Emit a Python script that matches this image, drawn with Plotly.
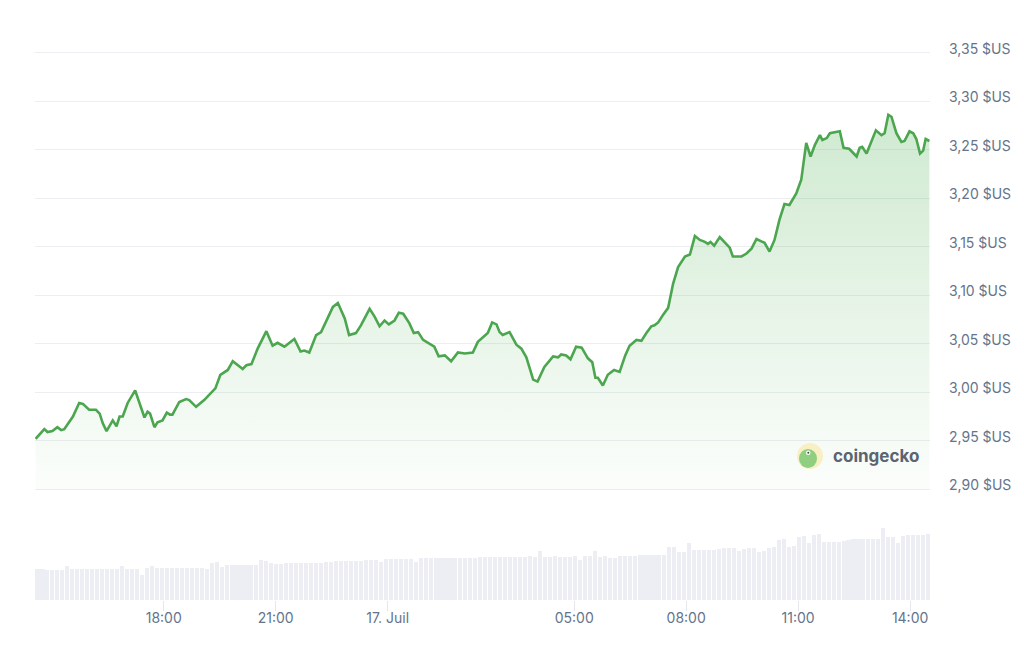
import plotly.graph_objects as go
import pandas as pd

# ---------------- data ----------------
times_jul16 = [
    "14:34", "14:48", "14:53", "15:01", "15:09", "15:15", "15:20", "15:34", "15:44", "15:50",
    "16:00", "16:11", "16:17", "16:22", "16:28", "16:38", "16:44", "16:49", "16:54", "17:02",
    "17:14", "17:21", "17:29", "17:34", "17:38", "17:45", "17:50", "17:58", "18:05", "18:10",
    "18:14", "18:25", "18:36", "18:41", "18:52", "19:05", "19:16", "19:23", "19:31", "19:43",
    "19:51", "19:59", "20:07", "20:13", "20:21", "20:31", "20:45", "20:55", "21:03", "21:14",
    "21:30", "21:40", "21:46", "21:54", "22:05", "22:13", "22:20", "22:32", "22:40", "22:51",
    "22:58", "23:09", "23:17", "23:31", "23:39", "23:47", "23:55",
]
times_jul17 = [
    "00:02", "00:11", "00:18", "00:25", "00:35", "00:42", "00:49", "00:57", "01:05", "01:15",
    "01:22", "01:32", "01:42", "01:53", "02:04", "02:17", "02:25", "02:33", "02:41", "02:48",
    "02:55", "03:00", "03:05", "03:16", "03:27", "03:35", "03:43", "03:54", "04:01", "04:12",
    "04:26", "04:34", "04:39", "04:47", "04:54", "05:03", "05:12", "05:22", "05:29", "05:34",
    "05:38", "05:46", "05:54", "06:04", "06:13", "06:22", "06:29", "06:40", "06:48", "06:56",
    "07:04", "07:09", "07:15", "07:23", "07:31", "07:39", "07:47", "07:58", "08:06", "08:14",
    "08:22", "08:30", "08:35", "08:39", "08:45", "08:54", "09:02", "09:10", "09:15", "09:29",
    "09:37", "09:45", "09:53", "10:01", "10:06", "10:14", "10:22", "10:30", "10:38", "10:46",
    "10:57", "11:05", "11:13", "11:20", "11:27", "11:35", "11:39", "11:46", "11:51", "12:07",
    "12:13", "12:22", "12:34", "12:39", "12:43", "12:50", "13:05", "13:14", "13:19", "13:25",
    "13:30", "13:38", "13:46", "13:51", "13:59", "14:05", "14:10", "14:16", "14:21", "14:25",
    "14:31",
]
price = [
    2.952, 2.962, 2.959, 2.960, 2.964, 2.961, 2.962, 2.975, 2.989, 2.988,
    2.982, 2.982, 2.978, 2.968, 2.960, 2.971, 2.965, 2.975, 2.975, 2.989,
    3.002, 2.989, 2.974, 2.980, 2.978, 2.964, 2.969, 2.971, 2.979, 2.977,
    2.977, 2.990, 2.993, 2.992, 2.985, 2.992, 2.999, 3.004, 3.018, 3.023,
    3.032, 3.028, 3.024, 3.028, 3.029, 3.045, 3.063, 3.048, 3.051, 3.047,
    3.055, 3.042, 3.043, 3.041, 3.059, 3.062, 3.071, 3.088, 3.092, 3.076,
    3.059, 3.061, 3.069, 3.086, 3.078, 3.068, 3.074,
    3.070, 3.074, 3.082, 3.081, 3.071, 3.061, 3.062, 3.054, 3.051, 3.047,
    3.037, 3.038, 3.032, 3.041, 3.040, 3.041, 3.052, 3.057, 3.061, 3.072,
    3.070, 3.062, 3.059, 3.062, 3.049, 3.045, 3.036, 3.013, 3.011, 3.026,
    3.037, 3.036, 3.039, 3.038, 3.034, 3.047, 3.046, 3.035, 3.031, 3.015,
    3.015, 3.007, 3.018, 3.023, 3.021, 3.038, 3.048, 3.054, 3.053, 3.061,
    3.068, 3.069, 3.072, 3.080, 3.087, 3.112, 3.129, 3.140, 3.142, 3.161,
    3.157, 3.155, 3.153, 3.155, 3.151, 3.160, 3.155, 3.149, 3.140, 3.140,
    3.143, 3.148, 3.158, 3.156, 3.154, 3.145, 3.157, 3.178, 3.194, 3.193,
    3.205, 3.219, 3.257, 3.243, 3.255, 3.265, 3.260, 3.262, 3.267, 3.269,
    3.252, 3.251, 3.243, 3.252, 3.253, 3.246, 3.270, 3.265, 3.267, 3.286,
    3.284, 3.267, 3.258, 3.259, 3.269, 3.267, 3.261, 3.246, 3.249, 3.261,
    3.259,
]
# 24h rolling volume (relative units), one bar every 8 minutes
volume = [
    31, 31, 29.7, 29.7, 29.7, 29.7, 34.3, 31, 31, 31,
    31, 31, 31, 31, 31, 31, 31, 34, 31, 31,
    31, 25, 31.7, 34, 32.3, 32.3, 32.3, 32.3, 32.3, 32.3,
    32.3, 32.3, 32.3, 32.3, 31, 37.3, 38, 33.3, 34.7, 34.7,
    34.7, 34.7, 34.7, 34.7, 34.7, 40, 39, 36.7, 36, 36,
    36.7, 36.7, 36.7, 36.7, 36.7, 36.7, 36.7, 37.3, 38.3, 38.3,
    39, 39, 39, 39, 39, 39, 40, 40, 40, 38.3,
    40.7, 40.7, 40.7, 40.7, 40.7, 40.7, 38.3, 41.7, 41.7, 41.7,
    41.7, 41.7, 41.7, 41.7, 42.3, 42.3, 42.3, 42.3, 42.3, 42.7,
    42.7, 42.7, 42.7, 42.7, 42.7, 42.7, 42.7, 42.7, 43.3, 44,
    42.7, 49, 42.7, 43.3, 44, 43.3, 42.7, 42.7, 44, 40,
    44, 44, 49, 43.3, 44, 41.7, 41.7, 44, 44, 44,
    44, 45, 45, 45, 45, 45, 45, 53.3, 53.3, 48.3,
    47.7, 56.7, 50, 50, 50, 50, 50, 50.7, 51.7, 51.7,
    51.7, 49.3, 51, 51.7, 52.3, 48.3, 49, 52.3, 53.3, 60,
    60.7, 53.3, 54, 62.7, 64, 56.7, 65, 66, 58.3, 58.3,
    58.3, 58.3, 59.3, 60, 60.7, 60.7, 60.7, 60.7, 60.7, 60.7,
    71.7, 62.7, 63.3, 57.3, 64, 64.7, 64.7, 64.7, 65, 66,
]
price_ticks = [2.90, 2.95, 3.00, 3.05, 3.10, 3.15, 3.20, 3.25, 3.30, 3.35]
price_tick_labels = ["2,90 $US", "2,95 $US", "3,00 $US", "3,05 $US", "3,10 $US",
                     "3,15 $US", "3,20 $US", "3,25 $US", "3,30 $US", "3,35 $US"]
time_ticks = ["2025-07-16 18:00", "2025-07-16 21:00", "2025-07-17 00:00", "2025-07-17 05:00",
              "2025-07-17 08:00", "2025-07-17 11:00", "2025-07-17 14:00"]
time_tick_labels = ["18:00", "21:00", "17. Juil", "05:00", "08:00", "11:00", "14:00"]

# ---------------- build ----------------
x_price = ["2025-07-16 " + t for t in times_jul16] + ["2025-07-17 " + t for t in times_jul17]
vol_times = pd.date_range("2025-07-16 14:37", periods=len(volume), freq="8min")

FONT = "Inter, 'Noto Sans', sans-serif"
LABEL_COLOR = "#64748b"
GREEN = "#4ba64f"

fig = go.Figure()
fig.add_trace(go.Bar(
    x=vol_times, y=volume, yaxis="y2", xaxis="x",
    marker=dict(color="#eceef3", line=dict(width=0)),
    width=8 * 60 * 1000 * 0.82, hoverinfo="skip", showlegend=False,
))
fig.add_trace(go.Scatter(
    x=x_price, y=price, mode="lines", yaxis="y", xaxis="x",
    line=dict(color=GREEN, width=2.6),
    fill="tozeroy",
    fillgradient=dict(type="vertical",
                      colorscale=[[0, "rgba(76,175,80,0.02)"], [1, "rgba(76,175,80,0.27)"]],
                      start=2.90, stop=3.29),
    showlegend=False,
))

# plot area geometry helpers (pixels -> paper)
L, R, T, B = 35, 94, 51, 46
W, H = 1024, 646
pw, ph = W - L - R, H - T - B


def px(x):
    return (x - L) / pw


def py(y):
    return (H - B - y) / ph


fig.update_layout(
    width=W, height=H,
    margin=dict(l=L, r=R, t=T, b=B),
    paper_bgcolor="white", plot_bgcolor="white",
    font=dict(family=FONT, size=14, color=LABEL_COLOR),
    bargap=0,
    xaxis=dict(
        domain=[0, 1], anchor="y2", type="date",
        range=["2025-07-16 14:33", "2025-07-17 14:32"],
        tickvals=time_ticks, ticktext=time_tick_labels,
        ticks="outside", ticklen=10, tickcolor="#e3e6eb", tickwidth=1,
        ticklabelstandoff=-5,
        showgrid=False, zeroline=False, showline=False,
        tickfont=dict(size=14, color=LABEL_COLOR),
    ),
    yaxis=dict(
        domain=[py(491.0), 1], anchor="x", side="right",
        range=[2.89825, 3.35175],
        tickvals=price_ticks, ticktext=price_tick_labels,
        showgrid=True, gridcolor="#eceef2", gridwidth=1,
        zeroline=False, showline=False, ticks="",
        ticklabelstandoff=18, ticklabelshift=-4,
        tickfont=dict(size=14, color=LABEL_COLOR),
    ),
    yaxis2=dict(
        domain=[0, 0.2], anchor="x", range=[0, 109.4 * 549 / 547],
        visible=False, showgrid=False,
    ),
    shapes=[
        dict(type="circle", xref="paper", yref="paper",
             x0=px(797), x1=px(823), y0=py(469), y1=py(443),
             fillcolor="#f8f0c4", line=dict(width=0)),
        dict(type="circle", xref="paper", yref="paper",
             x0=px(799), x1=px(817), y0=py(468), y1=py(449),
             fillcolor="#8fcf7f", line=dict(width=0)),
        dict(type="circle", xref="paper", yref="paper",
             x0=px(806), x1=px(810.5), y0=py(455), y1=py(450.5),
             fillcolor="white", line=dict(width=0)),
        dict(type="circle", xref="paper", yref="paper",
             x0=px(807.3), x1=px(809.3), y0=py(453.8), y1=py(451.8),
             fillcolor="#3c4a3c", line=dict(width=0)),
    ],
    annotations=[
        dict(text="<b>coingecko</b>", xref="paper", yref="paper",
             x=px(831), y=py(456), xanchor="left", yanchor="middle",
             showarrow=False, font=dict(family=FONT, size=17, color="#5c6470")),
    ],
)

fig.write_html("out.html", config={"displayModeBar": False},
               post_script="document.body.style.margin='0px';")
